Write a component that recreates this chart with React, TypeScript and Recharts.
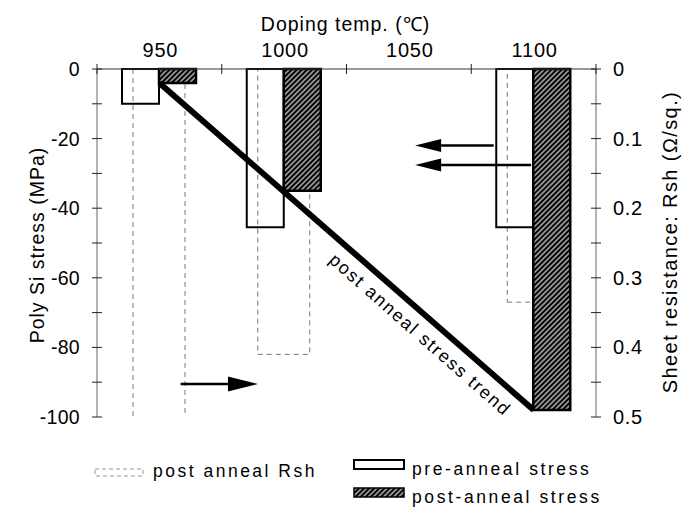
import React from 'react';
import { ComposedChart, Bar, Line, XAxis, YAxis, ReferenceLine, ReferenceDot } from 'recharts';

// ---- data ----
const temps = ['950', '1000', '1050', '1100'];
const preAnnealStress = [-10, -45.5, null, -45.5];
const postAnnealStress = [-4, -35, null, -98];
const postAnnealRsh = [0.51, 0.41, null, 0.335];
const trendValues = [-4, null, null, -98];

const stressTicks = [0, -10, -20, -30, -40, -50, -60, -70, -80, -90, -100];
const rshTicks = [0, 0.05, 0.1, 0.15, 0.2, 0.25, 0.3, 0.35, 0.4, 0.45, 0.5];

// slot position of each category centre on a 0..4 position scale
const slotCentres = [0.5, 1.5, 2.5, 3.5];

// annotation arrows (x on the 0..4 position scale, y in MPa)
const arrowStarts = [3.18, 3.48, 0.67];
const arrowEnds = [2.55, 2.55, 1.29];
const arrowLevels = [-22, -27.6, -90.5];

const trendLabelText = 'post anneal stress trend';
const trendLabelPos = { x: 2.59, y: -76.4 };

const data = temps.map((t, i) => ({
  temp: t,
  slot: slotCentres[i],
  pre: preAnnealStress[i],
  post: postAnnealStress[i],
  rsh: postAnnealRsh[i],
  trend: trendValues[i],
}));

const FONT = '"Liberation Sans", Arial, Helvetica, sans-serif';

const TopTick = (p: any) => {
  const { x, y, payload, index } = p;
  const half = payload && payload.offset ? payload.offset : 62.4;
  const last = index === temps.length - 1;
  return (
    <g>
      <line x1={x - half} x2={x - half} y1={y - 5} y2={y + 5} stroke="#222" strokeWidth={1} />
      {last && <line x1={x + half} x2={x + half} y1={y - 5} y2={y + 5} stroke="#222" strokeWidth={1} />}
      <text x={x + 1} y={y - 12} textAnchor="middle" fontSize={20} letterSpacing={0.8} fontFamily={FONT} fill="#000">
        {payload.value}
      </text>
    </g>
  );
};

const LeftTick = (p: any) => {
  const { x, y, payload } = p;
  const v = payload.value;
  const show = Math.round(v) % 20 === 0;
  return (
    <g>
      <line x1={x - 5} x2={x + 5} y1={y} y2={y} stroke="#222" strokeWidth={1} />
      {show && (
        <text x={x - 17} y={y + 7} textAnchor="end" fontSize={19.5} letterSpacing={0.3} fontFamily={FONT} fill="#000">
          {v}
        </text>
      )}
    </g>
  );
};

const RightTick = (p: any) => {
  const { x, y, payload } = p;
  const v = payload.value;
  const show = Math.round(v * 100) % 10 === 0;
  return (
    <g>
      <line x1={x - 5} x2={x + 5} y1={y} y2={y} stroke="#222" strokeWidth={1} />
      {show && (
        <text x={x + 17} y={y + 7} textAnchor="start" fontSize={20} letterSpacing={0.6} fontFamily={FONT} fill="#000">
          {v === 0 ? '0' : v.toFixed(1)}
        </text>
      )}
    </g>
  );
};

const makeArrow = (headLen: number, hw: number) => (props: any) => {
  const { x1, y1, x2, y2 } = props;
  const dx = x2 - x1;
  const dy = y2 - y1;
  const len = Math.hypot(dx, dy) || 1;
  const ux = dx / len;
  const uy = dy / len;
  const bx = x2 - ux * headLen;
  const by = y2 - uy * headLen;
  const px = -uy * hw;
  const py = ux * hw;
  return (
    <g>
      <line x1={x1} y1={y1} x2={bx} y2={by} stroke="#000" strokeWidth={2.4} />
      <polygon points={`${x2},${y2} ${bx + px},${by + py} ${bx - px},${by - py}`} fill="#000" />
    </g>
  );
};

export default function App() {
  return (
    <div
      style={{
        position: 'absolute',
        left: 0,
        top: 0,
        width: 682,
        height: 510,
        background: '#fff',
        fontFamily: FONT,
      }}
    >
      <svg width={0} height={0} style={{ position: 'absolute' }}>
        <defs>
          <pattern id="hatch" patternUnits="userSpaceOnUse" width={3.6} height={3.6} patternTransform="rotate(45)">
            <rect x={0} y={0} width={3.6} height={3.6} fill="#000" />
            <line x1={1.8} y1={0} x2={1.8} y2={3.6} stroke="#fff" strokeWidth={1.05} />
          </pattern>
        </defs>
      </svg>
      <ComposedChart
        width={682}
        height={510}
        data={data}
        margin={{ top: 0, right: 0, bottom: 93, left: 0 }}
        barGap={0}
      >
        <XAxis
          xAxisId="main"
          dataKey="temp"
          type="category"
          orientation="top"
          height={69}
          interval={0}
          tickSize={0}
          tickMargin={0}
          axisLine={{ stroke: '#333', strokeWidth: 1 }}
          tickLine={false}
          tick={(p: any) => <TopTick {...p} />}
          label={{
            content: (lp: any) => {
              const vb = lp.viewBox || { x: 97, y: 0, width: 499, height: 69 };
              return (
                <text
                  x={vb.x + vb.width / 2 - 1}
                  y={31}
                  textAnchor="middle"
                  fontSize={19.5}
                  letterSpacing={1}
                  fontFamily={FONT}
                  fill="#000"
                >
                  Doping temp. (℃)
                </text>
              );
            },
          }}
        />
        <XAxis xAxisId="rshAxis" dataKey="temp" type="category" hide />
        <XAxis xAxisId="pos" dataKey="slot" type="number" domain={[0, 4]} hide allowDataOverflow />
        <YAxis
          yAxisId="left"
          orientation="left"
          width={97}
          domain={[-100, 0]}
          ticks={stressTicks}
          interval={0}
          tickSize={0}
          tickMargin={0}
          axisLine={{ stroke: '#666', strokeWidth: 1 }}
          tickLine={false}
          tick={(p: any) => <LeftTick {...p} />}
          label={{
            content: (lp: any) => {
              const vb = lp.viewBox || { x: 0, y: 69, width: 97, height: 348 };
              const cx = vb.x + 37;
              const cy = vb.y + vb.height / 2 + 2;
              return (
                <text
                  x={cx}
                  y={cy}
                  transform={`rotate(-90 ${cx} ${cy})`}
                  textAnchor="middle"
                  dominantBaseline="central"
                  fontSize={19.5}
                  letterSpacing={1}
                  fontFamily={FONT}
                  fill="#000"
                >
                  Poly Si stress (MPa)
                </text>
              );
            },
          }}
        />
        <YAxis
          yAxisId="right"
          orientation="right"
          width={86}
          domain={[0, 0.5]}
          reversed
          allowDataOverflow
          ticks={rshTicks}
          interval={0}
          tickSize={0}
          tickMargin={0}
          axisLine={{ stroke: '#666', strokeWidth: 1 }}
          tickLine={false}
          tick={(p: any) => <RightTick {...p} />}
          label={{
            content: (lp: any) => {
              const vb = lp.viewBox || { x: 596, y: 69, width: 86, height: 348 };
              const cx = vb.x + 74;
              const cy = vb.y + vb.height / 2 - 1;
              return (
                <text
                  x={cx}
                  y={cy}
                  transform={`rotate(-90 ${cx} ${cy})`}
                  textAnchor="middle"
                  dominantBaseline="central"
                  fontSize={20}
                  letterSpacing={1.4}
                  fontFamily={FONT}
                  fill="#000"
                >
                  Sheet resistance: Rsh (Ω/sq.)
                </text>
              );
            },
          }}
        />
        <Bar
          xAxisId="rshAxis"
          yAxisId="right"
          dataKey="rsh"
          barSize={52}
          fill="none"
          stroke="#777"
          strokeWidth={1}
          strokeDasharray="5 4"
          isAnimationActive={false}
        />
        <Bar
          xAxisId="main"
          yAxisId="left"
          dataKey="pre"
          barSize={37}
          fill="none"
          stroke="#000"
          strokeWidth={2}
          isAnimationActive={false}
        />
        <Bar
          xAxisId="main"
          yAxisId="left"
          dataKey="post"
          barSize={37}
          fill="url(#hatch)"
          stroke="#000"
          strokeWidth={2.5}
          isAnimationActive={false}
        />
        <Line
          xAxisId="main"
          yAxisId="left"
          dataKey="trend"
          stroke="#000"
          strokeWidth={6}
          dot={false}
          activeDot={false}
          connectNulls
          isAnimationActive={false}
        />
        {arrowStarts.map((xs, i) => (
          <ReferenceLine
            key={`arrow-${i}`}
            xAxisId="pos"
            yAxisId="left"
            ifOverflow="visible"
            segment={[
              { x: xs, y: arrowLevels[i] },
              { x: arrowEnds[i], y: arrowLevels[i] },
            ]}
            shape={i === 2 ? makeArrow(30, 7.5) : makeArrow(26, 6.5)}
          />
        ))}
        <ReferenceDot
          xAxisId="pos"
          yAxisId="left"
          ifOverflow="visible"
          x={trendLabelPos.x}
          y={trendLabelPos.y}
          shape={(p: any) => (
            <text
              x={p.cx}
              y={p.cy}
              transform={`rotate(41.4 ${p.cx} ${p.cy})`}
              textAnchor="middle"
              dominantBaseline="central"
              fontSize={18}
              letterSpacing={1.8}
              fontFamily={FONT}
              fill="#000"
            >
              {trendLabelText}
            </text>
          )}
        />
      </ComposedChart>
      <svg width={682} height={70} style={{ position: 'absolute', left: 0, top: 440 }}>
        <rect x={95} y={29} width={48} height={7} fill="none" stroke="#999" strokeWidth={1} strokeDasharray="4 3" />
        <text x={153} y={37} fontSize={17.5} letterSpacing={2.5} fontFamily={FONT} fill="#000">
          post anneal Rsh
        </text>
        <rect x={354} y={20} width={50} height={9} fill="#fff" stroke="#000" strokeWidth={2} />
        <text x={412} y={35} fontSize={17.5} letterSpacing={2.6} fontFamily={FONT} fill="#000">
          pre-anneal stress
        </text>
        <rect x={354} y={48} width={50} height={9} fill="url(#hatch)" stroke="#000" strokeWidth={1.5} />
        <text x={412} y={63} fontSize={17.5} letterSpacing={2.6} fontFamily={FONT} fill="#000">
          post-anneal stress
        </text>
      </svg>
    </div>
  );
}
